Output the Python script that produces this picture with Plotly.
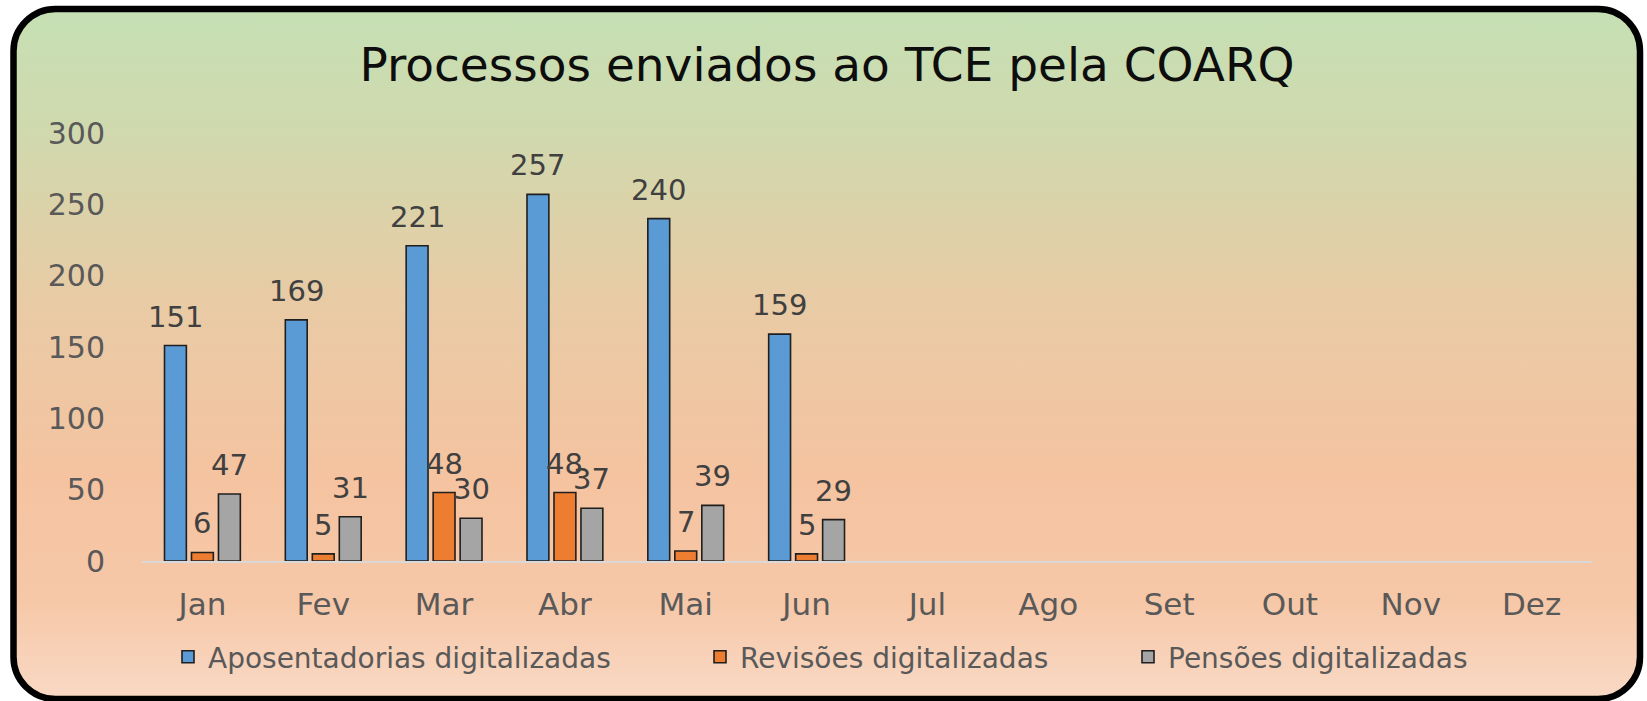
import base64
import plotly.graph_objects as go

# ---------------- data ----------------
meses = ["Jan", "Fev", "Mar", "Abr", "Mai", "Jun", "Jul", "Ago", "Set", "Out", "Nov", "Dez"]
aposentadorias = [151, 169, 221, 257, 240, 159, None, None, None, None, None, None]
revisoes = [6, 5, 48, 48, 7, 5, None, None, None, None, None, None]
pensoes = [47, 31, 30, 37, 39, 29, None, None, None, None, None, None]
y_ticks = [0, 50, 100, 150, 200, 250, 300]

series = [
    ("Aposentadorias digitalizadas", aposentadorias, "#5B9BD5"),
    ("Revisões digitalizadas", revisoes, "#ED7D31"),
    ("Pensões digitalizadas", pensoes, "#A5A5A5"),
]

W, H = 1647, 701
FONT = "DejaVu Sans"
BARGAP = 0.33
GROUPGAP = 0.19

# ---------------- background (rounded frame with gradient) ----------------
svg = f"""<svg xmlns='http://www.w3.org/2000/svg' width='{W}' height='{H}' viewBox='0 0 {W} {H}'>
<defs><linearGradient id='g' x1='0' y1='0' x2='0' y2='1'>
<stop offset='0' stop-color='#C5E0B4'/>
<stop offset='0.17' stop-color='#D0D9AE'/>
<stop offset='0.42' stop-color='#E8CBA5'/>
<stop offset='0.68' stop-color='#F5C3A0'/>
<stop offset='0.86' stop-color='#F6C8A8'/>
<stop offset='1' stop-color='#F9D9C5'/>
</linearGradient></defs>
<rect x='13.5' y='9' width='1626.5' height='690' rx='42' ry='42' fill='url(#g)' stroke='#000000' stroke-width='6.5'/>
</svg>"""
bg_src = "data:image/svg+xml;base64," + base64.b64encode(svg.encode("utf-8")).decode("ascii")

fig = go.Figure()

legend_names = ["legend", "legend2", "legend3"]
for (name, vals, color), lg in zip(series, legend_names):
    fig.add_trace(go.Bar(
        name=name, x=meses, y=vals, showlegend=True,
        marker=dict(color=color, line=dict(color="#1F1F1F", width=1.6)),
        legend=lg, hoverinfo="x+y+name",
    ))

# value labels above bars
slot = (1 - BARGAP) / len(series)
annotations = []
for k, (name, vals, color) in enumerate(series):
    off = (k - (len(series) - 1) / 2) * slot
    for i, v in enumerate(vals):
        if v is None:
            continue
        annotations.append(dict(
            x=i + off, y=v, xref="x", yref="y", text=str(v), showarrow=False,
            yanchor="bottom", xanchor="center", yshift=10,
            font=dict(family=FONT, size=29, color="#404040"),
        ))

# plot-area geometry (pixels of the 1647x701 canvas)
x0, x1 = 142, 1592
y_top, y_bot = 133, 561

legend_common = dict(
    orientation="h", yanchor="middle", xanchor="left", y=(H - 657) / H,
    bgcolor="rgba(0,0,0,0)", borderwidth=0, visible=True,
    font=dict(family=FONT, size=28, color="#595959"),
)

fig.update_layout(
    width=W, height=H, showlegend=True,
    margin=dict(l=0, r=0, t=0, b=0, pad=0),
    paper_bgcolor="#FFFFFF", plot_bgcolor="rgba(0,0,0,0)",
    barmode="group", bargap=BARGAP, bargroupgap=GROUPGAP,
    title=dict(text="Processos enviados ao TCE pela COARQ", x=827 / W, xanchor="center",
               y=(H - 65) / H, yanchor="middle",
               font=dict(family=FONT, size=47, color="#0D0D0D")),
    xaxis=dict(domain=[x0 / W, x1 / W], type="category", categoryorder="array",
               categoryarray=meses, showgrid=False, zeroline=False,
               showline=True, linecolor="#D9D9D9", linewidth=1.5,
               ticks="", ticklabelstandoff=15, automargin=False,
               tickfont=dict(family=FONT, size=31, color="#595959")),
    yaxis=dict(domain=[(H - y_bot) / H, (H - y_top) / H], range=[0, 300],
               tickvals=y_ticks, showgrid=False, zeroline=False, showline=False,
               ticks="", ticklabelstandoff=36, automargin=False,
               tickfont=dict(family=FONT, size=30, color="#595959")),
    legend=dict(legend_common, x=168 / W),
    legend2=dict(legend_common, x=700 / W),
    legend3=dict(legend_common, x=1128 / W),
    annotations=annotations,
    images=[dict(source=bg_src, xref="paper", yref="paper", x=0, y=1, sizex=1, sizey=1,
                 xanchor="left", yanchor="top", sizing="stretch", layer="below")],
    font=dict(family=FONT),
)

fig.write_html("out.html", config={"displayModeBar": False},
               post_script="document.body.style.margin='0';document.body.style.overflow='hidden';")
